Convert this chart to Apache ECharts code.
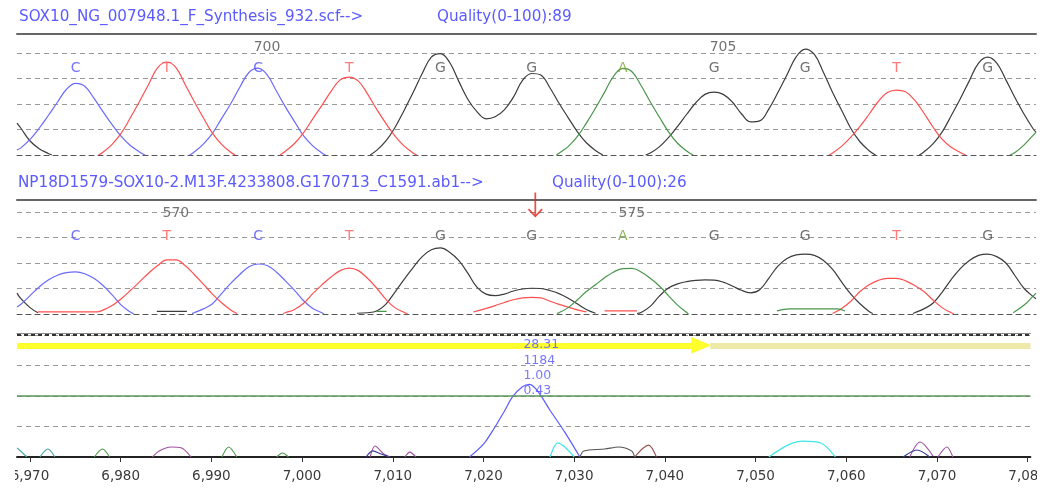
<!DOCTYPE html>
<html><head><meta charset="utf-8">
<script src="https://cdn.jsdelivr.net/npm/echarts@6/dist/echarts.min.js"></script>
<style>html,body{margin:0;padding:0;background:#fff}#c{width:1050px;height:492px}</style>
</head><body><div id="c"></div>
<script>
// ---------- data ----------
const X_MIN = 6968.57, X_MAX = 7080.3;
const xTicks = [6970, 6980, 6990, 7000, 7010, 7020, 7030, 7040, 7050, 7060, 7070, 7080];
const xTickLabels = ['6,970', '6,980', '6,990', '7,000', '7,010', '7,020', '7,030', '7,040', '7,050', '7,060', '7,070', '7,080'];

const title1 = 'SOX10_NG_007948.1_F_Synthesis_932.scf-->';
const quality1 = 'Quality(0-100):89';
const title2 = 'NP18D1579-SOX10-2.M13F.4233808.G170713_C1591.ab1-->';
const quality2 = 'Quality(0-100):26';

const bases1 = ['C', 'T', 'C', 'T', 'G', 'G', 'A', 'G', 'G', 'T', 'G'];
const bases2 = ['C', 'T', 'C', 'T', 'G', 'G', 'A', 'G', 'G', 'T', 'G'];
const basePos = [6975, 6985, 6995, 7005, 7015, 7025, 7035, 7045, 7055, 7065, 7075];
const posNums1 = ['700', '705'];
const posNumAt1 = [6995, 7045];
const posNums2 = ['570', '575'];
const posNumAt2 = [6985, 7035];
const mutationAt = 7025.4;

// reference trace (panel 1): segments of [scan position, signal]
const tr1Black = [
  [[6968.57,1.25],[6969,1.05],[6970,0.55],[6971,0.25],[6972,0.06],[6972.4,0]],
  [[7007.3,0],[7008,0.18],[7009,0.54],[7010,1.07],[7011,1.74],[7012,2.45],[7013,3.2],[7014,3.84],[7015,3.98],[7016,3.64],[7017,2.9],[7018,2.19],[7019,1.7],[7020,1.42],[7021,1.5],[7022,1.77],[7023,2.27],[7024,2.93],[7025,3.2],[7026,3.14],[7027,2.64],[7028,2.03],[7029,1.47],[7030,0.92],[7031,0.48],[7032,0.18],[7032.8,0]],
  [[7037.5,0],[7038,0.08],[7039,0.32],[7040,0.68],[7041,1.12],[7042,1.6],[7043,2.05],[7044,2.38],[7045,2.47],[7046,2.38],[7047,2.08],[7048,1.62],[7049,1.3],[7050,1.34],[7051,1.8],[7052,2.45],[7053,3.15],[7054,3.85],[7055,4.16],[7056,3.95],[7057,3.24],[7058,2.45],[7059,1.75],[7060,1.04],[7061,0.52],[7062,0.17],[7062.7,0]],
  [[7067.5,0],[7068,0.12],[7069,0.44],[7070,0.9],[7071,1.54],[7072,2.21],[7073,2.92],[7074,3.61],[7075,3.84],[7076,3.61],[7077,2.95],[7078,2.25],[7079,1.6],[7080,1.02],[7080.3,0.9]]
];
const tr1Blue = [
  [[6968.57,0.2],[6969,0.28],[6970,0.61],[6971,1.05],[6972,1.55],[6973,2.07],[6974,2.58],[6975,2.81],[6976,2.7],[6977,2.23],[6978,1.7],[6979,1.19],[6980,0.73],[6981,0.37],[6982,0.12],[6982.6,0]],
  [[6987.5,0],[6988,0.12],[6989,0.43],[6990,0.85],[6991,1.43],[6992,2.01],[6993,2.66],[6994,3.24],[6995,3.41],[6996,3.15],[6997,2.52],[6998,1.89],[6999,1.31],[7000,0.75],[7001,0.36],[7002,0.08],[7002.4,0]]
];
const tr1Red = [
  [[6977.5,0],[6978,0.11],[6979,0.42],[6980,0.86],[6981,1.46],[6982,2.1],[6983,2.77],[6984,3.43],[6985,3.65],[6986,3.43],[6987,2.77],[6988,2.1],[6989,1.46],[6990,0.86],[6991,0.42],[6992,0.11],[6992.5,0]],
  [[6997.4,0],[6998,0.15],[6999,0.45],[7000,0.88],[7001,1.42],[7002,1.95],[7003,2.5],[7004,2.95],[7005,3.06],[7006,2.9],[7007,2.4],[7008,1.8],[7009,1.25],[7010,0.75],[7011,0.36],[7012,0.08],[7012.4,0]],
  [[7057.6,0],[7058,0.08],[7059,0.35],[7060,0.7],[7061,1.12],[7062,1.6],[7063,2.1],[7064,2.45],[7065,2.55],[7066,2.48],[7067,2.15],[7068,1.65],[7069,1.1],[7070,0.62],[7071,0.3],[7072,0.1],[7072.6,0]]
];
const tr1Green = [
  [[7027.7,0],[7028,0.07],[7029,0.33],[7030,0.72],[7031,1.25],[7032,1.84],[7033,2.47],[7034,3.1],[7035,3.4],[7036,3.27],[7037,2.73],[7038,2.09],[7039,1.49],[7040,0.91],[7041,0.46],[7042,0.16],[7042.7,0]],
  [[7077.45,0],[7078,0.1],[7079,0.4],[7080,0.78],[7080.3,0.9]]
];

// sample trace (panel 2)
const tr2Black = [
  [[6968.57,0.82],[6969,0.6],[6970,0.25],[6970.87,0.05]],
  [[6983.9,0.1],[6987.2,0.1]],
  [[7005.85,0.03],[7007,0.05],[7008,0.12],[7009,0.38],[7010,0.85],[7011,1.35],[7012,1.82],[7013,2.25],[7014,2.52],[7015,2.59],[7016,2.42],[7017,2.1],[7018,1.6],[7019,1.05],[7020,0.78],[7021,0.72],[7022,0.78],[7023,0.9],[7024,0.98],[7025,1.01],[7026,1.0],[7027,0.92],[7028,0.8],[7029,0.62],[7030,0.4],[7031,0.18],[7032,0.03]],
  [[7036.55,0.02],[7037,0.06],[7038,0.3],[7039,0.7],[7040,1.02],[7041,1.18],[7042,1.27],[7043,1.32],[7044,1.34],[7045,1.33],[7046,1.25],[7047,1.1],[7048,0.93],[7049,0.83],[7050,0.95],[7051,1.4],[7052,1.88],[7053,2.18],[7054,2.32],[7055,2.35],[7056,2.3],[7057,2.1],[7058,1.75],[7059,1.25],[7060,0.78],[7061,0.4],[7062,0.1],[7062.4,0.02]],
  [[7066.8,0.02],[7067,0.05],[7068,0.2],[7069,0.42],[7070,0.85],[7071,1.35],[7072,1.78],[7073,2.1],[7074,2.3],[7075,2.35],[7076,2.25],[7077,2.0],[7078,1.5],[7079,1.0],[7080,0.68],[7080.3,0.6]]
];
const tr2Red = [
  [[6970.87,0.08],[6977.3,0.08],[6978,0.15],[6979,0.33],[6980,0.6],[6981,0.92],[6982,1.26],[6983,1.6],[6984,1.9],[6985,2.12],[6986,2.12],[6987,1.9],[6988,1.55],[6989,1.17],[6990,0.78],[6991,0.44],[6992,0.16],[6992.7,0.02]],
  [[6997.74,0.02],[6998,0.05],[6999,0.18],[7000,0.42],[7001,0.8],[7002,1.14],[7003,1.45],[7004,1.7],[7005,1.8],[7006,1.7],[7007,1.4],[7008,1.02],[7009,0.58],[7010,0.25],[7011,0.07],[7011.4,0]],
  [[7018.6,0.08],[7020,0.22],[7021,0.33],[7022,0.45],[7023,0.56],[7024,0.63],[7025,0.65],[7026,0.63],[7027,0.5],[7028,0.38],[7029,0.27],[7030,0.16],[7031,0.08]],
  [[7033.0,0.12],[7036.55,0.12]],
  [[7058,0.02],[7059,0.22],[7060,0.5],[7061,0.88],[7062,1.15],[7063,1.32],[7064,1.4],[7065,1.4],[7066,1.3],[7067,1.12],[7068,0.88],[7069,0.55],[7070,0.25],[7071,0.05],[7071.3,0]]
];
const tr2Blue = [
  [[6968.57,0.27],[6969,0.38],[6970,0.72],[6971,1.06],[6972,1.33],[6973,1.52],[6974,1.62],[6975,1.65],[6976,1.58],[6977,1.4],[6978,1.12],[6979,0.75],[6980,0.35],[6981,0.08],[6981.4,0]],
  [[6987.76,0.02],[6988,0.05],[6989,0.2],[6990,0.4],[6991,0.8],[6992,1.2],[6993,1.55],[6994,1.85],[6995,1.96],[6996,1.9],[6997,1.65],[6998,1.3],[6999,0.93],[7000,0.52],[7001,0.22],[7002,0.05],[7002.2,0]]
];
const tr2Green = [
  [[7008.0,0.1],[7009.1,0.1]],
  [[7027.8,0.02],[7028,0.05],[7029,0.25],[7030,0.55],[7031,0.88],[7032,1.15],[7033,1.42],[7034,1.65],[7035,1.78],[7036,1.79],[7037,1.65],[7038,1.4],[7039,1.1],[7040,0.72],[7041,0.35],[7042,0.06],[7042.2,0]],
  [[7051.9,0.12],[7053.3,0.2],[7058.5,0.2],[7059.36,0.12]],
  [[7077.8,0.05],[7079,0.35],[7079.9,0.67],[7080.3,0.82]]
];

// difference trace (panel 3)
const p3Blue = [[[7018.46,0],[7020,0.42],[7021.2,0.95],[7022.3,1.5],[7023.2,1.97],[7024.3,2.3],[7025.1,2.38],[7026,2.15],[7027.3,1.55],[7029,0.8],[7030.63,0]]];
const p3Teal = [[[6968.57,0.3],[6969.67,0]], [[6971.1,0],[6971.97,0.26],[6972.74,0]]];
const p3Green = [[[6977.1,0],[6978.0,0.26],[6978.77,0]], [[6991.16,0],[6991.9,0.33],[6992.8,0]], [[6997.2,0],[6997.85,0.13],[6998.5,0]]];
const p3Purple = [[[6983.5,0],[6984.25,0.2],[6985.57,0.33],[6986.66,0.3],[6987.76,0]], [[7007.5,0],[7008.04,0.36],[7009.0,0.1],[7009.7,0]], [[7011.33,0],[7011.88,0.16],[7012.54,0]], [[7067.0,0],[7068.13,0.49],[7069.56,0.03]], [[7070.1,0],[7071.1,0.33],[7071.75,0]]];
const p3Navy = [[[7007.06,0],[7007.8,0.2],[7008.7,0.1],[7009.7,0]], [[7066.27,0],[7067.8,0.23],[7069.2,0]]];
const p3Cyan = [[[7027.34,0],[7028.2,0.46],[7030.0,0]], [[7051.46,0],[7053.55,0.39],[7055.2,0.52],[7057.2,0.46],[7058.8,0]]];
const p3Gray = [[[7030.63,0],[7031.07,0.2],[7033.37,0.26],[7034.9,0.33],[7036.33,0.2],[7036.66,0]]];
const p3Brown = [[[7036.66,0],[7038.2,0.39],[7039.07,0]]];
const peakStats = ['28.31', '1184', '1.00', '0.43'];
const peakStatAt = 7024.4;
const readLevel = 3.66;      // yellow read bar level (panel 3)
const readDoneAt = 7045;     // end of yellow arrow
const thresholdLevel = 2;    // green threshold line

// ---------- styles ----------
const FONT = 'DejaVu Sans';
const baseColor = { C: '#4f4fff', T: '#ff5a5a', G: '#505050', A: '#6f9f2f' };
const traceColor = { black: '#3c3c3c', blue: '#6a6aff', red: '#ff5050', green: '#4a954a' };

const chart = echarts.init(document.getElementById('c'), null, { renderer: 'canvas' });

function segSeries(axis, segs, color, width, smooth) {
  return segs.map(s => ({
    type: 'line', xAxisIndex: axis, yAxisIndex: axis, data: s, symbol: 'none',
    smooth: smooth, lineStyle: { color: color, width: width }, silent: true, animation: false, z: 3
  }));
}
function letterSeries(axis, bases, yLevel) {
  return {
    type: 'scatter', xAxisIndex: axis, yAxisIndex: axis, symbolSize: 0, silent: true, animation: false, clip: false, z: 4,
    data: bases.map((b, i) => ({ name: b, value: [basePos[i], yLevel], label: { color: baseColor[b] } })),
    label: { show: true, position: 'inside', formatter: '{b}', fontFamily: FONT, fontSize: 14 }
  };
}
function numSeries(axis, nums, at, yLevel) {
  return {
    type: 'scatter', xAxisIndex: axis, yAxisIndex: axis, symbolSize: 0, silent: true, animation: false, clip: false, z: 4,
    data: nums.map((n, i) => ({ name: n, value: [at[i], yLevel] })),
    label: { show: true, position: 'inside', offset: [9, 0], formatter: '{b}', fontFamily: FONT, fontSize: 14, color: '#505050' }
  };
}

const splitDash = { show: true, lineStyle: { color: '#9a9a9a', type: [5, 4], width: 1 } };
function yAx(idx, max) {
  return { gridIndex: idx, type: 'value', min: 0, max: max, interval: 1, axisLine: { show: false }, axisTick: { show: false }, axisLabel: { show: false }, splitLine: splitDash };
}
function xAxBottom(idx, extra) {
  return Object.assign({ gridIndex: idx, type: 'value', min: X_MIN, max: X_MAX, position: 'bottom', splitLine: { show: false },
    axisTick: { show: false }, axisLabel: { show: false },
    axisLine: { show: true, onZero: false, lineStyle: { color: '#555', type: [5, 4], width: 1 } } }, extra || {});
}
function xAxTop(idx, lineStyle, offset) {
  return { gridIndex: idx, type: 'value', min: X_MIN, max: X_MAX, position: 'top', offset: offset || 0, splitLine: { show: false },
    axisTick: { show: false }, axisLabel: { show: false }, axisLine: { show: true, onZero: false, lineStyle: lineStyle } };
}

const SM = 0.4;
const series = [];
series.push(...segSeries(0, tr1Black, traceColor.black, 1.2, SM));
series.push(...segSeries(0, tr1Blue, traceColor.blue, 1.2, SM));
series.push(...segSeries(0, tr1Red, traceColor.red, 1.2, SM));
series.push(...segSeries(0, tr1Green, traceColor.green, 1.2, SM));
series.push(letterSeries(0, bases1, 3.41));
series.push(numSeries(0, posNums1, posNumAt1, 4.24));

series.push(...segSeries(1, tr2Black, traceColor.black, 1.2, SM));
series.push(...segSeries(1, tr2Blue, traceColor.blue, 1.2, SM));
series.push(...segSeries(1, tr2Red, traceColor.red, 1.2, SM));
series.push(...segSeries(1, tr2Green, traceColor.green, 1.2, SM));
series.push(letterSeries(1, bases2, 3.06));
series.push(numSeries(1, posNums2, posNumAt2, 3.96));
series.push({
  type: 'scatter', xAxisIndex: 1, yAxisIndex: 1, clip: false, silent: true, animation: false, z: 6,
  symbol: 'path://M9,0 L11,0 L11,26 L17,19 L18.6,20.6 L10,30 L1.4,20.6 L3,19 L9,26 Z',
  symbolSize: [15, 25], itemStyle: { color: '#e3241c' },
  data: [[mutationAt, 4.27]]
});

// panel 3
const p3main = segSeries(2, p3Blue, '#5a5aff', 1.2, 0.3)[0];
p3main.markLine = {
  silent: true, animation: false, symbol: ['none', 'triangle'], symbolSize: [17, 20], label: { show: false },
  lineStyle: { color: '#ffff2e', width: 6, type: 'solid' },
  data: [[{ coord: [X_MIN, readLevel] }, { coord: [readDoneAt - 1.0, readLevel] }]]
};
series.push(p3main);
const paleSer = segSeries(2, p3Cyan, '#3ee6e6', 1.2, 0.3);
paleSer[0].markLine = {
  silent: true, animation: false, symbol: ['none', 'none'], label: { show: false },
  data: [
    [{ coord: [readDoneAt, readLevel], lineStyle: { color: '#eee9a8', width: 6, type: 'solid' } }, { coord: [X_MAX, readLevel] }],
    { yAxis: thresholdLevel, lineStyle: { color: '#5a965a', width: 1.5, type: 'solid' } },
    { yAxis: 4, lineStyle: { color: '#333', width: 2, type: [4, 3] } }
  ]
};
series.push(...paleSer);
series.push(...segSeries(2, p3Teal, '#4aa3a3', 1.1, 0.3));
series.push(...segSeries(2, p3Green, '#4a9a4a', 1.1, 0.3));
series.push(...segSeries(2, p3Purple, '#a050a0', 1.1, 0.3));
series.push(...segSeries(2, p3Navy, '#3a3a9a', 1.1, 0.3));
series.push(...segSeries(2, p3Gray, '#555555', 1.1, 0.3));
series.push(...segSeries(2, p3Brown, '#9a5050', 1.1, 0.3));
series.push({
  type: 'scatter', xAxisIndex: 2, yAxisIndex: 2, symbolSize: 0, clip: false, silent: true, animation: false, z: 7,
  data: [[peakStatAt, 2.92]],
  label: { show: true, position: 'right', distance: 0, align: 'left', formatter: peakStats.join('\n'), lineHeight: 15.3,
    fontFamily: FONT, fontSize: 12.5, color: '#5555ff' }
});

const titleStyle = { color: '#5a5aff', fontSize: 15.2, fontWeight: 'normal', fontFamily: FONT };
const option = {
  backgroundColor: '#ffffff',
  animation: false,
  title: [
    { text: title1, left: 19, top: 10, padding: 0, textStyle: titleStyle },
    { text: quality1, left: 437, top: 10, padding: 0, textStyle: titleStyle },
    { text: title2, left: 18, top: 176, padding: 0, textStyle: titleStyle },
    { text: quality2, left: 552, top: 176, padding: 0, textStyle: titleStyle }
  ],
  grid: [
    { left: 17, right: 14, top: 34, height: 121 },
    { left: 17, right: 14, top: 200, height: 114 },
    { left: 17, right: 14, top: 335, height: 122 }
  ],
  xAxis: [
    xAxBottom(0),
    xAxBottom(1),
    xAxBottom(2, {
      axisLine: { show: true, onZero: false, lineStyle: { color: '#222', width: 2 } },
      axisTick: { show: true, length: 5, customValues: xTicks, lineStyle: { color: '#333' } },
      axisLabel: { show: true, customValues: xTicks, margin: 12, fontFamily: FONT, fontSize: 13.5, color: '#3a3a3a',
        formatter: v => { const i = xTicks.indexOf(Math.round(v)); return i >= 0 ? xTickLabels[i] : ''; } }
    }),
    xAxTop(0, { color: '#666', width: 2 }),
    xAxTop(1, { color: '#666', width: 2 }),
    xAxTop(2, { color: '#888', width: 1 }, 2)
  ],
  yAxis: [yAx(0, 4.75), yAx(1, 4.47), yAx(2, 4)],
  // the viewer window crops the outermost tick labels
  graphic: [
    { type: 'rect', left: 0, top: 464, shape: { width: 15, height: 28 }, style: { fill: '#fff' }, z: 100, silent: true },
    { type: 'rect', left: 1037, top: 464, shape: { width: 13, height: 28 }, style: { fill: '#fff' }, z: 100, silent: true }
  ],
  series: series
};
chart.setOption(option);
</script>
</body></html>
